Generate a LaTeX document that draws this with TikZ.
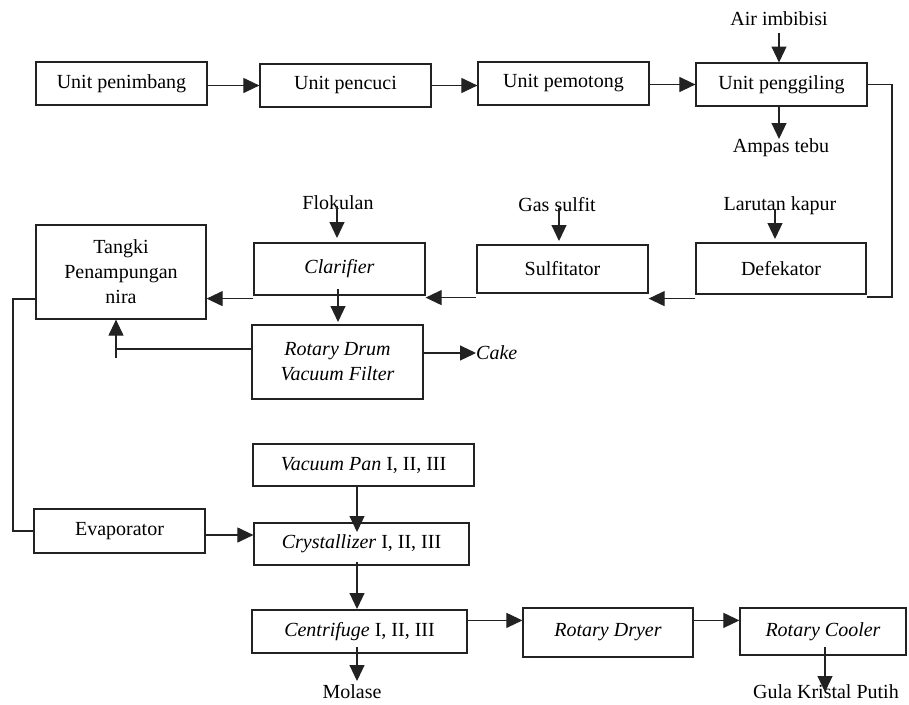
\documentclass[tikz,border=0pt]{standalone}
\usepackage{fontspec}
\setmainfont{Liberation Serif}
\usetikzlibrary{arrows.meta}
\definecolor{ink}{HTML}{222222}
\tikzset{
  box/.style={draw=ink, line width=1.2pt, rectangle, inner sep=0pt, align=center, text=black, font=\fontsize{20}{25}\selectfont},
  lbl/.style={inner sep=0pt, text=black, font=\fontsize{20}{25}\selectfont},
  conn/.style={draw=ink, line width=1.1pt},
  arr/.style={conn, -{Triangle[length=16pt,width=15pt]}}
}
\begin{document}
\begin{tikzpicture}[x=1pt,y=-1pt]
\useasboundingbox (0,0) rectangle (909,704);
% boxes
\node[box, minimum width=171pt, minimum height=43pt] (pen) at (121.5,83.5) {Unit penimbang};
\node[box, minimum width=171pt, minimum height=43pt] (pcu) at (345.5,85.5) {Unit pencuci};
\node[box, minimum width=171pt, minimum height=43pt] (pmt) at (563.5,83.5) {Unit pemotong};
\node[box, minimum width=171pt, minimum height=43pt] (pgl) at (781.5,84.5) {Unit penggiling};
\node[box, minimum width=170pt, minimum height=51pt] (def) at (781,268.5) {Defekator};
\node[box, minimum width=171pt, minimum height=48pt] (sul) at (562.5,269) {Sulfitator};
\node[box, minimum width=171pt, minimum height=52pt] (cla) at (339.5,269) {\itshape Clarifier};
\node[box, minimum width=170pt, minimum height=94pt] (tan) at (121,272) {Tangki\\Penampungan\\nira};
\node[box, minimum width=171pt, minimum height=74pt] (rdv) at (337.5,362) {\itshape Rotary Drum\\\itshape Vacuum Filter};
\node[box, minimum width=171pt, minimum height=44pt] (eva) at (119.5,531) {Evaporator};
\node[box, minimum width=221pt, minimum height=42pt] (vp) at (363.5,465) {\textit{Vacuum Pan} I, II, III};
\node[box, minimum width=215pt, minimum height=42pt] (cry) at (361.5,544) {\textit{Crystallizer} I, II, III};
\node[box, minimum width=215pt, minimum height=43pt] (cen) at (359.5,631.5) {\textit{Centrifuge} I, II, III};
\node[box, minimum width=170pt, minimum height=49pt] (rdr) at (608,632.5) {\itshape Rotary Dryer};
\node[box, minimum width=166pt, minimum height=47pt] (rco) at (823,631.5) {\itshape Rotary Cooler};
% labels
\node[lbl] (air) at (779,19) {Air imbibisi};
\node[lbl] (amp) at (781,148) {Ampas tebu};
\node[lbl] (kap) at (780,206) {Larutan kapur};
\node[lbl] (gas) at (557,205) {Gas sulfit};
\node[lbl] (flo) at (338,203) {Flokulan};
\node[lbl, anchor=west] (cake) at (476,353) {\itshape Cake};
\node[lbl] (mol) at (352,692) {Molase};
\node[lbl] (gula) at (826,692) {Gula Kristal Putih};
% coordinates
\coordinate (rc) at (892,297);
\coordinate (rt) at (116,349);
\coordinate (lc) at (13,531);
% top row
\draw[arr] ([yshift=-2pt]pen.east) -- ([yshift=-2pt]pen.east -| pcu.west);
\draw[arr] (pcu.east) -- (pcu.east -| pmt.west);
\draw[arr] ([yshift=-1pt]pmt.east) -- ([yshift=-1pt]pmt.east -| pgl.west);
\draw[arr] (779,33) -- (779,62.5);
\draw[arr] (pgl.south -| 779,0) -- (779,139);
% right loop
\draw[conn] (pgl.east) -| (rc) -- (rc -| def.east);
% additive arrows
\draw[arr] (775,209) -- (775,239);
\draw[arr] (559,208) -- (559,241);
\draw[arr] (337,206) -- (337,238);
% middle row
\draw[arr] ([yshift=-4pt]def.south west) -- ([yshift=-4pt]def.south west -| sul.east);
\draw[arr] ([yshift=-4pt]sul.south west) -- ([yshift=-4pt]sul.south west -| cla.east);
\draw[arr] ([yshift=-3pt]cla.south west) -- ([yshift=-3pt]cla.south west -| tan.east);
\draw[arr] (338,289) -- (338,322);
% RDVF return
\draw[conn] (rdv.west |- rt) -- (rt);
\draw[arr] ([yshift=-9pt]rt) -- (rt |- tan.south);
\draw[arr] (rdv.east |- cake.west) -- (cake.west);
% left loop
\draw[conn] ([yshift=-27pt]tan.west) -| (lc) -- (eva.west);
\draw[arr] ([yshift=-4pt]eva.east) -- ([yshift=-4pt]eva.east -| cry.west);
% verticals
\draw[arr] (357,486) -- (357,532);
\draw[arr] (357,562) -- (357,609);
\draw[arr] (357,647) -- (357,681);
% bottom row
\draw[arr] ([yshift=-11pt]cen.north east) -- ([yshift=-11pt]cen.north east -| rdr.west);
\draw[arr] ([yshift=-13pt]rdr.north east) -- ([yshift=-13pt]rdr.north east -| rco.west);
\draw[arr] (825,647) -- (825,692);
\end{tikzpicture}
\end{document}
